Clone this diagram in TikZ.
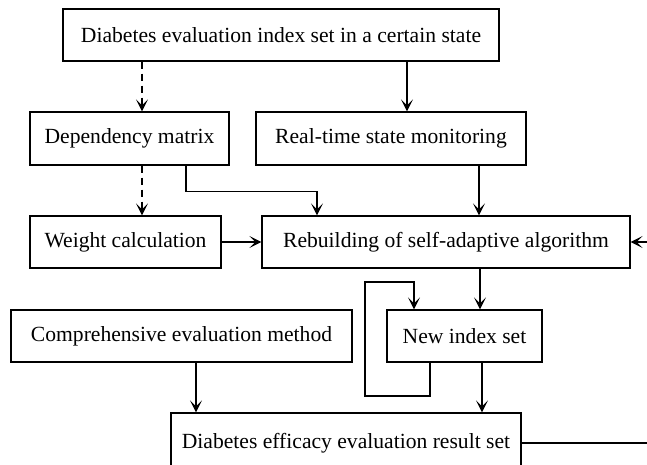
\documentclass[tikz,border=0pt]{standalone}
\usepackage{fontspec}
\setmainfont{Liberation Serif}
\newfontfamily\diagfont{Liberation Serif}
\usetikzlibrary{arrows.meta}
\tikzset{
  box/.style={draw=black, line width=1.3pt, fill=white, inner sep=0pt,
    font=\diagfont\fontsize{21.6pt}{24pt}\selectfont},
  conn/.style={line width=1.3pt, draw=black},
  arr/.style={conn, -{Stealth[length=12pt,width=12pt,inset=6pt]}},
  darr/.style={arr, dash pattern=on 7pt off 5pt},
}
\begin{document}
\begin{tikzpicture}[x=1pt,y=1pt]
\useasboundingbox (0,0) rectangle (647,464);
\fill[white] (0,0) rectangle (647,464);
\clip (0,0) rectangle (647,464);
% boxes
\node[box, minimum width=436pt, minimum height=52pt] (top) at (281,429) {Diabetes evaluation index set in a certain state};
\node[box, minimum width=199pt, minimum height=53pt] (dep) at (129.5,325.5) {Dependency matrix};
\node[box, minimum width=270pt, minimum height=53pt] (rt) at (391,325.5) {Real-time state monitoring};
\node[box, minimum width=191pt, minimum height=52pt] (wt) at (125.5,222) {Weight calculation};
\node[box, minimum width=368pt, minimum height=52pt] (reb) at (446,222) {Rebuilding of self-adaptive algorithm};
\node[box, minimum width=341pt, minimum height=52pt] (comp) at (181.5,128) {Comprehensive evaluation method};
\node[box, minimum width=155pt, minimum height=52pt] (new) at (464.5,128) {New index set};
\node[box, minimum width=350pt, minimum height=60pt] (eff) at (346,21) {Diabetes efficacy evaluation result set};
% helper coordinates
\coordinate (c1) at ([xshift=12.5pt]dep.north);
\coordinate (c1b) at ([xshift=12.5pt]dep.south);
\coordinate (c2) at ([xshift=16pt]rt.north);
\coordinate (e1) at ([xshift=56.5pt]dep.south);
\coordinate (e2) at ([xshift=-129pt]reb.north);
\coordinate (c3) at ([xshift=88pt]rt.south);
\coordinate (c4) at ([xshift=15.5pt]new.north);
\coordinate (ls) at ([xshift=-34.5pt]new.south);
\coordinate (lt) at ([xshift=-50.5pt]new.north);
\coordinate (l1) at (365,68);
\coordinate (l2) at (365,182);
\coordinate (c5) at ([xshift=17.5pt]new.south);
\coordinate (c6) at ([xshift=14.5pt]comp.south);
\coordinate (outR) at (668,0);
% connectors
\draw[darr] (c1 |- top.south) -- (c1);
\draw[arr] (c2 |- top.south) -- (c2);
\draw[darr] (c1b) -- (c1b |- wt.north);
\draw[arr] (e1) -- ++(0,-26) -| (e2);
\draw[arr] (c3) -- (c3 |- reb.north);
\draw[arr] (wt.east) -- (reb.west);
\draw[arr] (eff.east) -| (outR |- reb.east) -- (reb.east);
\draw[arr] (c4 |- reb.south) -- (c4);
\draw[arr] (ls) -- (ls |- l1) -- (l1) -- (l2) -- (lt |- l2) -- (lt);
\draw[arr] (c5) -- (c5 |- eff.north);
\draw[arr] (c6) -- (c6 |- eff.north);
\end{tikzpicture}
\end{document}
